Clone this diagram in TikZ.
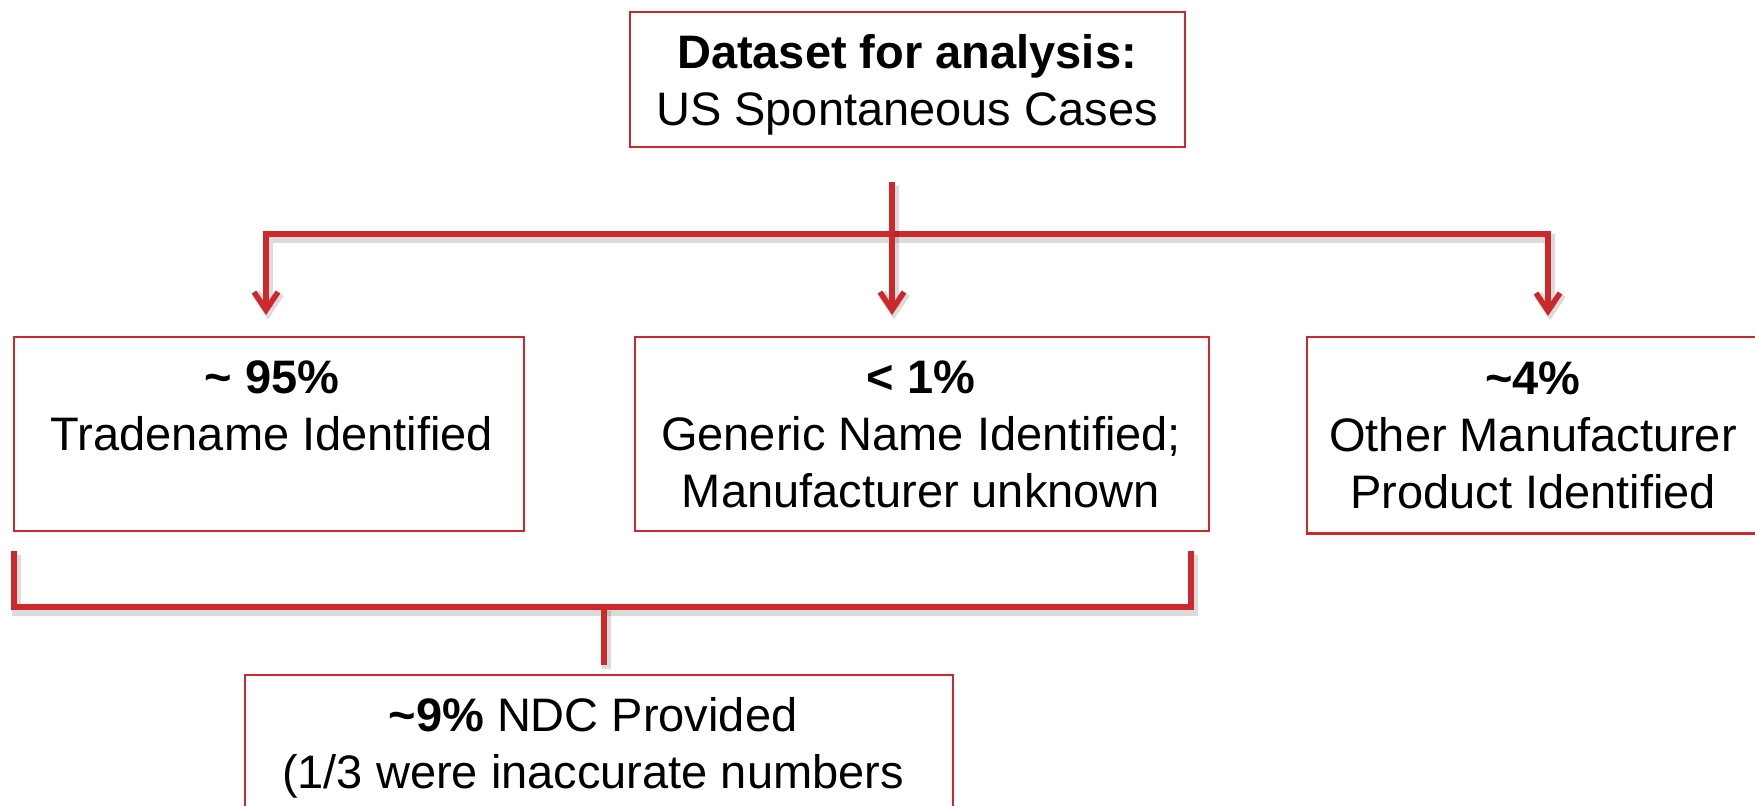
\documentclass[tikz,border=0pt]{standalone}
\usepackage{fontspec}
\setmainfont{Liberation Sans}
\usetikzlibrary{arrows.meta}
\definecolor{flowred}{RGB}{205,40,44}
\begin{document}
\begin{tikzpicture}[x=0.5pt,y=-0.5pt,
  boxline/.style={draw=flowred, line width=1.2pt},
  box/.style={boxline, rectangle, inner sep=0pt, anchor=north west},
  boxtext/.style={anchor=north, inner sep=0pt, align=center,
    font=\fontsize{23.5}{28.5}\selectfont},
  conn/.style={draw=flowred, line width=2.75pt, line join=miter, line cap=butt,
    preaction={draw=black, draw opacity=0.14, line width=4.5pt,
      transform canvas={xshift=1pt, yshift=-2.2pt}}},
  barb/.tip={Straight Barb[length=9pt,width=12pt]}
]
\useasboundingbox (0,0) rectangle (1755,806);

% boxes
\node[box, minimum width=277.5pt, minimum height=67.5pt] (top) at (629,11) {};
\node[box, minimum width=255pt, minimum height=97pt] (tn) at (13,336) {};
\node[box, minimum width=287pt, minimum height=97pt] (gen) at (634,336) {};
\node[box, draw=none, minimum width=240pt, minimum height=97pt] (oth) at (1307,337) {};
\node[box, minimum width=354pt, minimum height=85pt] (ndc) at (244,674) {};
% the right-hand box runs off the edge of the page
\draw[boxline] (oth.north east) -- (oth.north west) -- (oth.south west) -- (oth.south east);

% box texts
\node[boxtext] (toptext) at (907,28) {\strut\textbf{Dataset for analysis:}\\US Spontaneous Cases};
\node[boxtext] (tntext) at (272,353) {\strut\textbf{\textasciitilde{} 95\%}\\Tradename Identified};
\node[boxtext] (gentext) at (921,353) {\strut\textbf{< 1\%}\\Generic Name Identified;\\Manufacturer unknown};
\node[boxtext] (othtext) at (1533,354) {\strut\textbf{\textasciitilde4\%}\\Other Manufacturer\\Product Identified};
\node[boxtext] (ndctext) at (593,691) {\strut\textbf{\textasciitilde9\%} NDC Provided\\(1/3 were inaccurate numbers};

% branch points
\coordinate (stem) at (892,182);
\coordinate (busl) at (266,234);
\coordinate (busr) at (1548,234);
\coordinate (brl) at (14,551);
\coordinate (brr) at (1191,551);
\coordinate (brm) at (604,607);

% split into three categories
\draw[conn, barb-barb] ([yshift=10.5pt]busl |- tn.north) -- (busl) -- (busr)
  -- ([yshift=10.5pt]busr |- oth.north);
\draw[conn, -barb] (stem) -- ([yshift=10.5pt]stem |- gen.north);

% merge into NDC subset
\draw[conn] (brl) -- (brl |- brm) -- (brr |- brm) -- (brr);
\draw[conn] (brm) -- ([yshift=4.5pt]brm |- ndc.north);
\end{tikzpicture}
\end{document}
